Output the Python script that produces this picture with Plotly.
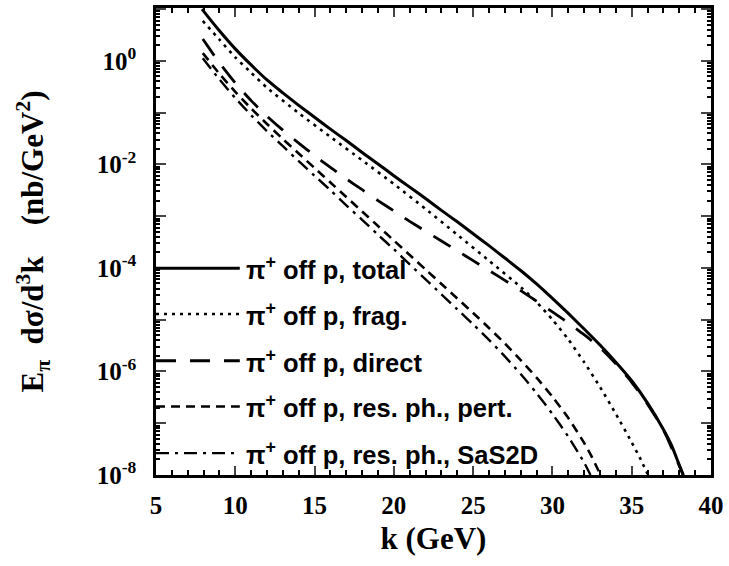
import plotly.graph_objects as go

# ---------------- data ----------------
k_total = [7.9, 8, 9, 10, 11, 12, 13, 14, 15, 16, 17, 18, 19, 20, 21, 22, 23, 24, 25, 26, 27,
           28, 29, 30, 31, 32, 33, 34, 35, 36, 37, 37.5, 38, 38.25]
y_total = [1.0e1, 9.12, 3.80, 1.70, 0.832, 0.427, 0.240, 0.138, 8.13e-2, 4.79e-2, 2.88e-2,
           1.70e-2, 1.02e-2, 6.03e-3, 3.63e-3, 2.19e-3, 1.29e-3, 7.76e-4, 4.57e-4, 2.69e-4,
           1.55e-4, 8.91e-5, 4.90e-5, 2.57e-5, 1.32e-5, 6.61e-6, 3.24e-6, 1.51e-6, 6.61e-7,
           2.45e-7, 7.59e-8, 3.80e-8, 1.55e-8, 1.0e-8]

k_frag = [7.95, 9, 10, 11, 12, 14, 16, 18, 20, 22, 24, 26, 28, 29, 30, 31, 32, 33, 34, 35, 35.5, 36]
y_frag = [5.89, 2.57, 1.17, 0.589, 0.302, 9.77e-2, 3.39e-2, 1.20e-2, 4.17e-3, 1.38e-3, 4.37e-4,
          1.38e-4, 4.27e-5, 2.19e-5, 1.0e-5, 4.17e-6, 1.51e-6, 5.01e-7, 1.51e-7, 4.27e-8,
          2.19e-8, 1.05e-8]

k_direct = [7.95, 9, 10, 11, 12, 13, 14, 15, 16, 17, 18, 19, 20, 21, 22, 23, 24, 25, 26, 27,
            28, 29, 30, 31, 32, 33, 34, 35, 36, 37, 38, 38.25]
y_direct = [2.63, 0.912, 0.372, 0.170, 8.51e-2, 4.57e-2, 2.57e-2, 1.48e-2, 8.71e-3, 5.25e-3,
            3.24e-3, 2.0e-3, 1.26e-3, 7.94e-4, 5.13e-4, 3.31e-4, 2.14e-4, 1.38e-4, 8.91e-5,
            5.75e-5, 3.63e-5, 2.29e-5, 1.41e-5, 8.71e-6, 5.13e-6, 2.88e-6, 1.41e-6, 6.17e-7,
            2.34e-7, 7.41e-8, 1.51e-8, 1.0e-8]

k_pert = [7.95, 9, 10, 11, 12, 13, 14, 15, 16, 17, 18, 19, 20, 21, 22, 23, 24, 25, 26, 27,
          28, 29, 30, 31, 32, 32.5, 33]
y_pert = [1.41, 0.562, 0.251, 0.120, 6.03e-2, 3.09e-2, 1.62e-2, 8.51e-3, 4.47e-3, 2.34e-3,
          1.23e-3, 6.46e-4, 3.39e-4, 1.78e-4, 9.33e-5, 4.90e-5, 2.57e-5, 1.35e-5, 6.92e-6,
          3.47e-6, 1.66e-6, 7.59e-7, 3.24e-7, 1.26e-7, 4.17e-8, 2.19e-8, 1.05e-8]

k_sas = [7.95, 9, 10, 11, 12, 13, 14, 15, 16, 17, 18, 19, 20, 21, 22, 23, 24, 25, 26, 27,
         28, 29, 30, 31, 32, 32.4]
y_sas = [1.12, 0.437, 0.191, 8.91e-2, 4.37e-2, 2.24e-2, 1.15e-2, 6.03e-3, 3.16e-3, 1.62e-3,
         8.51e-4, 4.37e-4, 2.29e-4, 1.17e-4, 6.03e-5, 3.09e-5, 1.58e-5, 8.13e-6, 4.07e-6,
         1.95e-6, 8.91e-7, 3.80e-7, 1.51e-7, 5.50e-8, 1.74e-8, 1.0e-8]

legend_labels = ["π<sup>+</sup> off p, total",
                 "π<sup>+</sup> off p, frag.",
                 "π<sup>+</sup> off p, direct",
                 "π<sup>+</sup> off p, res. ph., pert.",
                 "π<sup>+</sup> off p, res. ph., SaS2D"]

x_tickvals = [5, 10, 15, 20, 25, 30, 35, 40]
y_decades = [1e-8, 1e-7, 1e-6, 1e-5, 1e-4, 1e-3, 1e-2, 1e-1, 1e0, 1e1]
y_ticktext = ["10<sup>-8</sup>", "", "10<sup>-6</sup>", "", "10<sup>-4</sup>", "",
              "10<sup>-2</sup>", "", "10<sup>0</sup>", ""]

# ---------------- styles ----------------
dashes = ["solid", "3px,5px", "20px,14px", "9px,6px", "13px,6px,3px,6px"]
widths = [3, 2.6, 2.8, 2.6, 2.4]
series = [(k_total, y_total), (k_frag, y_frag), (k_direct, y_direct),
          (k_pert, y_pert), (k_sas, y_sas)]

fig = go.Figure()
for (kx, yy), d, w, name in zip(series, dashes, widths, legend_labels):
    fig.add_trace(go.Scatter(x=kx, y=yy, mode="lines", name=name, showlegend=False,
                             line=dict(color="black", width=w, dash=d,
                                       shape="spline", smoothing=0.6)))

# custom legend (sample lines + text) inside plot, lower left
leg_y = [0.4426, 0.3447, 0.2447, 0.1468, 0.0468]
for yy, d, w, name in zip(leg_y, dashes, widths, legend_labels):
    fig.add_shape(type="line", xref="paper", yref="paper", x0=0.0, x1=0.151, y0=yy, y1=yy,
                  line=dict(color="black", width=w, dash=d))
    fig.add_annotation(xref="paper", yref="paper", x=0.158, y=yy, text=name,
                       showarrow=False, xanchor="left", yanchor="middle",
                       font=dict(family="Liberation Sans", size=25.5, color="black",
                                 weight="bold"))

# minor ticks
y_minor = []
for dec in y_decades[:-1]:
    for m in range(2, 10):
        y_minor.append(dec * m)
x_minor = [v for v in range(5, 41) if v % 5 != 0]

serif = "Liberation Serif"
fig.update_layout(
    width=729, height=566,
    margin=dict(l=156, r=17, t=5, b=91),
    plot_bgcolor="white", paper_bgcolor="white",
    showlegend=False,
    xaxis=dict(range=[5, 40], tickvals=x_tickvals, ticks="inside", ticklen=9, tickwidth=2,
               showline=True, linewidth=2.5, linecolor="black", mirror="ticks",
               showgrid=False, zeroline=False,
               tickfont=dict(family=serif, size=25, color="black", weight="bold"),
               ticklabelstandoff=6,
               minor=dict(tickvals=x_minor, ticks="inside", ticklen=5, tickwidth=1.5,
                          tickcolor="black", showgrid=False),
               title=dict(text="k (GeV)", standoff=10,
                          font=dict(family=serif, size=31, color="black", weight="bold"))),
    yaxis=dict(type="log", range=[-8, 1.02], tickvals=y_decades, ticktext=y_ticktext,
               ticks="inside", ticklen=10, tickwidth=2,
               showline=True, linewidth=2.5, linecolor="black", mirror="ticks",
               showgrid=False, zeroline=False,
               tickfont=dict(family=serif, size=25, color="black", weight="bold"),
               ticklabelstandoff=12,
               minor=dict(tickvals=y_minor, ticks="inside", ticklen=4, tickwidth=1.5,
                          tickcolor="black", showgrid=False),
               title=dict(text="E<sub>π</sub>  dσ/d<sup>3</sup>k    (nb/GeV<sup>2</sup>)",
                          standoff=44,
                          font=dict(family=serif, size=31, color="black", weight="bold"))),
)

fig.write_html("out.html")
